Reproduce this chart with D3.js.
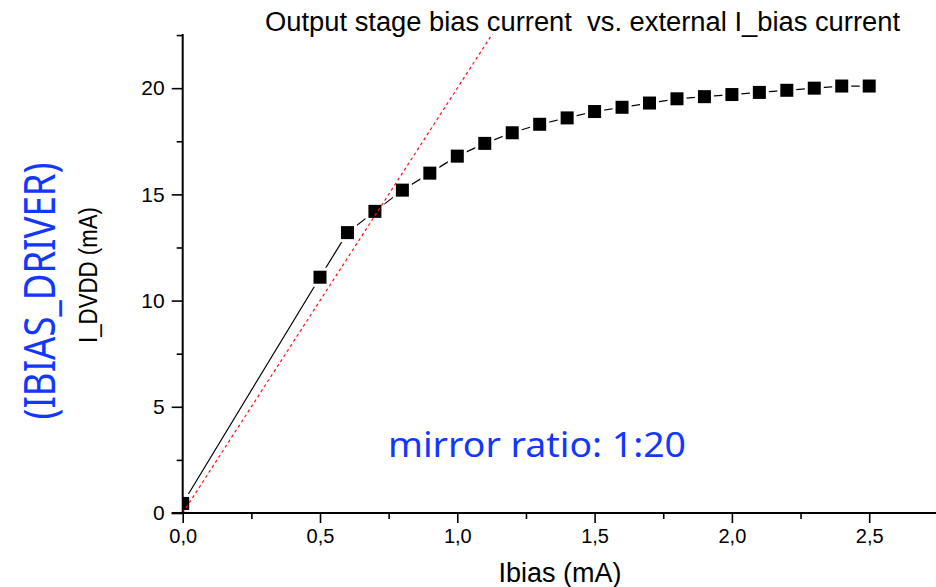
<!DOCTYPE html>
<html>
<head>
<meta charset="utf-8">
<script src="https://cdn.jsdelivr.net/npm/d3@7"></script>
<style>
    body { margin: 0; background: #fff; }
    svg { display: block; }
    .axis path, .axis line { stroke: #000; }
    .axis text { font-family: "Liberation Sans", Arial, sans-serif; fill: #000; }
</style>
</head>
<body>
<div class="svg-container"></div>
<script>
// Data
const ibias = [0.0, 0.5, 0.6, 0.7, 0.8, 0.9, 1.0, 1.1, 1.2, 1.3, 1.4, 1.5, 1.6, 1.7, 1.8, 1.9, 2.0, 2.1, 2.2, 2.3, 2.4, 2.5];
const idvdd = [0.45, 11.1, 13.2, 14.2, 15.2, 16.0, 16.8, 17.4, 17.9, 18.3, 18.6, 18.9, 19.1, 19.3, 19.5, 19.6, 19.7, 19.8, 19.9, 20.0, 20.1, 20.1];

// ideal 1:20 mirror line
const idealX = [0, 1.2];
const idealY = [0, 24];

const xTicks = [0, 0.5, 1.0, 1.5, 2.0, 2.5];
const xMinorTicks = [0.25, 0.75, 1.25, 1.75, 2.25];
const yTicks = [0, 5, 10, 15, 20];
const yMinorTicks = [2.5, 7.5, 12.5, 17.5, 22.5];

// Global Variables
const canvasWidth = 936;
const canvasHeight = 587;
const plot = { left: 182.7, top: 34, bottom: 513, right: 936 };
const blue = "#1238ff";

const svg = d3.select(".svg-container")
    .append("svg")
    .attr("width", canvasWidth)
    .attr("height", canvasHeight);

// Scales X - Y
const xScale = d3.scaleLinear().domain([0, 2.75]).range([plot.left, plot.left + 2.75 * 274.6]);
const yScale = d3.scaleLinear().domain([0, 22.55]).range([plot.bottom, plot.top]);

svg.append("clipPath")
    .attr("id", "plot-clip")
    .append("rect")
    .attr("x", plot.left)
    .attr("y", plot.top)
    .attr("width", plot.right - plot.left)
    .attr("height", plot.bottom - plot.top);

const points = ibias.map((x, i) => [x, idvdd[i]]);
const ideal = idealX.map((x, i) => [x, idealY[i]]);
const line = d3.line().x((d) => xScale(d[0])).y((d) => yScale(d[1]));

const g = svg.append("g").attr("clip-path", "url(#plot-clip)");

// measured curve
g.append("path")
    .datum(points)
    .attr("d", line)
    .attr("fill", "none")
    .attr("stroke", "#000")
    .attr("stroke-width", 1.2);

// white gap around markers
g.selectAll("rect.halo")
    .data(points)
    .enter()
    .append("rect")
    .attr("class", "halo")
    .attr("x", (d) => xScale(d[0]) - 9.5)
    .attr("y", (d) => yScale(d[1]) - 9.5)
    .attr("width", 19)
    .attr("height", 19)
    .attr("fill", "#fff");

g.selectAll("rect.marker")
    .data(points)
    .enter()
    .append("rect")
    .attr("class", "marker")
    .attr("x", (d) => xScale(d[0]) - 6.5)
    .attr("y", (d) => yScale(d[1]) - 6.5)
    .attr("width", 13)
    .attr("height", 13)
    .attr("fill", "#000");

// ideal red dashed line
g.append("path")
    .datum(ideal)
    .attr("d", line)
    .attr("fill", "none")
    .attr("stroke", "#ff1010")
    .attr("stroke-width", 1.2)
    .attr("stroke-dasharray", "3,3");

// Creating AXES X - Y
const fmt = (d) => d.toFixed(1).replace(".", ",");

const xAxis = svg.append("g")
    .attr("class", "axis")
    .attr("transform", `translate(0, ${plot.bottom})`)
    .call(d3.axisBottom(xScale).tickValues(xTicks).tickSize(10).tickPadding(6).tickFormat(fmt));
xAxis.select(".domain").attr("d", `M${plot.left - 11},0H${plot.right}`).attr("stroke-width", 2);
xAxis.selectAll(".tick line").attr("stroke-width", 1.6);
xAxis.selectAll(".tick text").attr("font-size", 20).attr("dy", "0.71em");

svg.append("g")
    .attr("class", "axis")
    .attr("transform", `translate(0, ${plot.bottom})`)
    .call(d3.axisBottom(xScale).tickValues(xMinorTicks).tickSize(6).tickFormat(""))
    .call((s) => s.select(".domain").remove())
    .selectAll(".tick line").attr("stroke-width", 1.6);

const yAxis = svg.append("g")
    .attr("class", "axis")
    .attr("transform", `translate(${plot.left}, 0)`)
    .call(d3.axisLeft(yScale).tickValues(yTicks).tickSize(11).tickPadding(7));
yAxis.select(".domain").attr("d", `M0,${plot.top}V${plot.bottom}`).attr("stroke-width", 2);
yAxis.selectAll(".tick line").attr("stroke-width", 1.6);
yAxis.selectAll(".tick text").attr("font-size", 21);

svg.append("g")
    .attr("class", "axis")
    .attr("transform", `translate(${plot.left}, 0)`)
    .call(d3.axisLeft(yScale).tickValues(yMinorTicks).tickSize(6).tickFormat(""))
    .call((s) => s.select(".domain").remove())
    .selectAll(".tick line").attr("stroke-width", 1.6);

// Title and axis labels
svg.append("text")
    .attr("x", 265)
    .attr("y", 31)
    .attr("font-family", "Liberation Sans, Arial, sans-serif")
    .attr("font-size", 27)
    .attr("textLength", 635)
    .attr("lengthAdjust", "spacingAndGlyphs")
    .style("white-space", "pre")
    .text("Output stage bias current  vs. external I_bias current");

svg.append("text")
    .attr("x", 560)
    .attr("y", 582)
    .attr("text-anchor", "middle")
    .attr("font-family", "Liberation Sans, Arial, sans-serif")
    .attr("font-size", 27)
    .text("Ibias (mA)");

svg.append("text")
    .attr("transform", "translate(97, 275) rotate(-90)")
    .attr("text-anchor", "middle")
    .attr("font-family", "Liberation Sans, Arial, sans-serif")
    .attr("font-size", 25)
    .attr("textLength", 136)
    .attr("lengthAdjust", "spacingAndGlyphs")
    .text("I_DVDD (mA)");

svg.append("text")
    .attr("transform", "translate(55, 291) rotate(-90)")
    .attr("text-anchor", "middle")
    .attr("font-family", "Noto Sans, sans-serif")
    .attr("font-size", 44)
    .attr("fill", blue)
    .attr("textLength", 257)
    .attr("lengthAdjust", "spacingAndGlyphs")
    .text("(IBIAS_DRIVER)");

svg.append("text")
    .attr("x", 388)
    .attr("y", 457)
    .attr("font-family", "Noto Sans, sans-serif")
    .attr("font-size", 35)
    .attr("fill", blue)
    .attr("textLength", 298)
    .attr("lengthAdjust", "spacingAndGlyphs")
    .text("mirror ratio: 1:20");
</script>
</body>
</html>
